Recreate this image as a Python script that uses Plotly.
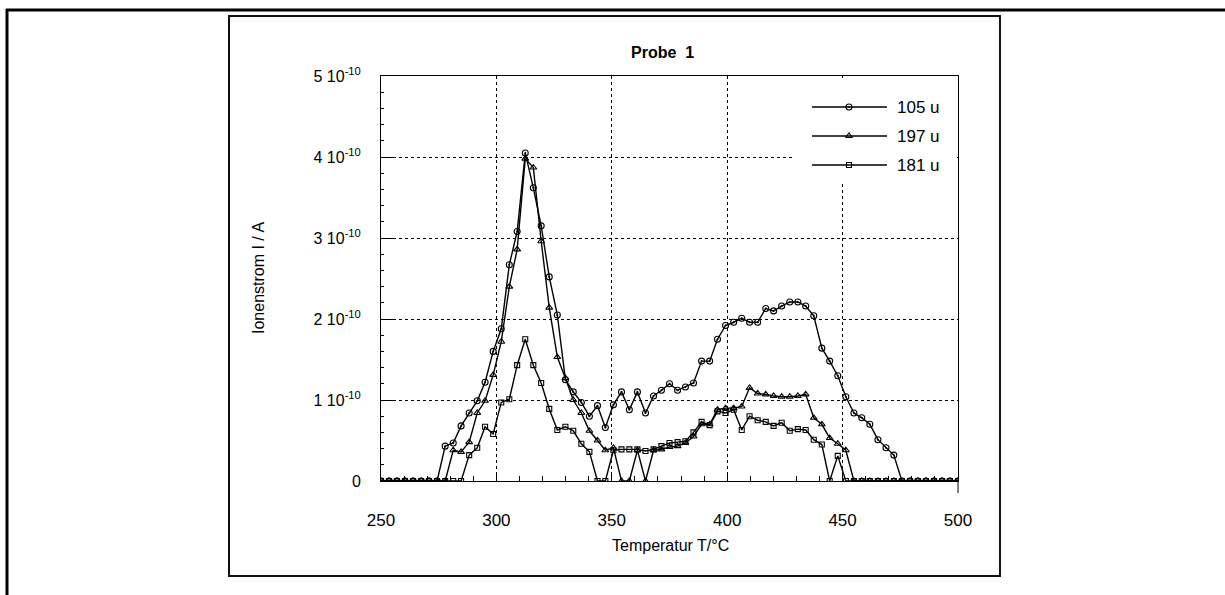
import plotly.graph_objects as go

W, H = 1225, 595

temperature = [250.0, 253.5, 256.9, 260.4, 263.9, 267.4, 270.8, 274.3, 277.8, 281.3,
               284.7, 288.2, 291.7, 295.1, 298.6, 302.1, 305.6, 309.0, 312.5, 316.0,
               319.4, 322.9, 326.4, 329.9, 333.3, 336.8, 340.3, 343.8, 347.2, 350.7,
               354.2, 357.6, 361.1, 364.6, 368.1, 371.5, 375.0, 378.5, 381.9, 385.4,
               388.9, 392.4, 395.8, 399.3, 402.8, 406.3, 409.7, 413.2, 416.7, 420.1,
               423.6, 427.1, 430.6, 434.0, 437.5, 441.0, 444.4, 447.9, 451.4, 454.9,
               458.3, 461.8, 465.3, 468.8, 472.2, 475.7, 479.2, 482.6, 486.1, 489.6,
               493.1, 496.5, 500.0]

# ion current in units of 1e-10 A
ion_105 = [0, 0, 0, 0, 0, 0, 0, 0,
           0.43, 0.47, 0.68, 0.84, 0.99, 1.22, 1.60, 1.88, 2.67, 3.08,
           4.05, 3.62, 3.15, 2.52, 2.05, 1.25, 1.10, 0.97, 0.80, 0.93,
           0.66, 0.94, 1.10, 0.88, 1.10, 0.84, 1.05, 1.12, 1.20, 1.12,
           1.16, 1.21, 1.48, 1.48, 1.75, 1.92, 1.96, 2.01, 1.96, 1.96,
           2.13, 2.10, 2.16, 2.21, 2.21, 2.16, 2.04, 1.64, 1.48, 1.30,
           1.04, 0.84, 0.78, 0.70, 0.51, 0.41, 0.32,
           0, 0, 0, 0, 0, 0, 0, 0]

ion_197 = [0, 0, 0, 0, 0, 0, 0, 0, 0,
           0.38, 0.36, 0.48, 0.84, 0.99, 1.31, 1.72, 2.40, 2.86, 3.98,
           3.87, 2.96, 2.14, 1.53, 1.27, 1.00, 0.84, 0.62, 0.50, 0.38,
           0.41, 0, 0, 0.38, 0, 0.38, 0.39, 0.42, 0.43, 0.47,
           0.55, 0.70, 0.70, 0.88, 0.90, 0.90, 0.92, 1.15, 1.08, 1.07,
           1.05, 1.04, 1.04, 1.05, 1.07, 0.78, 0.70, 0.53, 0.46, 0.38,
           0, 0, 0, 0, 0, 0, 0, 0, 0, 0, 0, 0, 0, 0]

ion_181 = [0, 0, 0, 0, 0, 0, 0, 0, 0, 0, 0,
           0.32, 0.41, 0.67, 0.58, 0.97, 1.01, 1.43, 1.75, 1.43, 1.21,
           0.89, 0.63, 0.67, 0.62, 0.46, 0.36, 0, 0, 0.38, 0.39,
           0.39, 0.39, 0.37, 0.39, 0.43, 0.47, 0.48, 0.49, 0.60, 0.73,
           0.69, 0.86, 0.84, 0.88, 0.63, 0.80, 0.75, 0.73, 0.68, 0.72,
           0.62, 0.64, 0.63, 0.51, 0.45, 0, 0.31, 0,
           0, 0, 0, 0, 0, 0, 0, 0, 0, 0, 0, 0, 0, 0]

SCALE = 1e-10
series_names = ["105 u", "197 u", "181 u"]
series_values = [ion_105, ion_197, ion_181]
series_symbols = ["circle-open-dot", "triangle-up-open", "square-open"]
series_sizes = [6, 6, 5]

x_tick_values = [250, 300, 350, 400, 450, 500]
y_tick_values = [0, 1e-10, 2e-10, 3e-10, 4e-10, 5e-10]
y_tick_labels = ["0", "1 10<sup>-10</sup>", "2 10<sup>-10</sup>", "3 10<sup>-10</sup>",
                 "4 10<sup>-10</sup>", "5 10<sup>-10</sup>"]

FONT = "Liberation Sans, Arial, Helvetica, sans-serif"

# plot area in pixels
PX0, PX1 = 381, 958
PY_TOP, PY_BOT = 76, 481

fig = go.Figure()

for name, vals, sym, sz in zip(series_names, series_values, series_symbols, series_sizes):
    fig.add_trace(go.Scatter(
        x=temperature, y=[v * SCALE for v in vals], mode="lines+markers", name=name,
        line=dict(color="black", width=1.4),
        marker=dict(symbol=sym, size=sz, color="black", line=dict(width=1.1, color="black")),
        showlegend=False, xaxis="x", yaxis="y",
    ))

# manual legend, drawn on a pixel overlay axis
legend_y = [107, 136, 165]
for name, sym, sz, ly in zip(series_names, series_symbols, series_sizes, legend_y):
    fig.add_trace(go.Scatter(
        x=[812, 887], y=[ly, ly], mode="lines", line=dict(color="black", width=1.4),
        showlegend=False, xaxis="x2", yaxis="y2", hoverinfo="skip"))
    fig.add_trace(go.Scatter(
        x=[849], y=[ly], mode="markers",
        marker=dict(symbol=sym, size=sz, color="black", line=dict(width=1.1, color="black")),
        showlegend=False, xaxis="x2", yaxis="y2", hoverinfo="skip"))

annotations = []
for name, ly in zip(series_names, legend_y):
    annotations.append(dict(x=895, y=ly, xref="x2", yref="y2", text=name, showarrow=False,
                            xanchor="left", yanchor="middle",
                            font=dict(family=FONT, size=17, color="black")))

annotations += [
    dict(x=662, y=52, xref="x2", yref="y2", text="<b>Probe  1</b>", showarrow=False,
         xanchor="center", yanchor="middle", font=dict(family=FONT, size=16, color="black")),
    dict(x=258, y=278, xref="x2", yref="y2", text="Ionenstrom I / A", showarrow=False,
         textangle=-90, xanchor="center", yanchor="middle",
         font=dict(family=FONT, size=16, color="black")),
    dict(x=670, y=545, xref="x2", yref="y2", text="Temperatur T/°C", showarrow=False,
         xanchor="center", yanchor="middle", font=dict(family=FONT, size=16, color="black")),
]

shapes = [
    # white legend background covering gridlines
    dict(type="rect", xref="x2", yref="y2", x0=792, x1=956, y0=78, y1=183,
         fillcolor="white", line=dict(width=0), layer="below"),
    # inner chart box
    dict(type="rect", xref="x2", yref="y2", x0=229, x1=1000, y0=16, y1=576,
         line=dict(color="#111", width=2), fillcolor="rgba(0,0,0,0)"),
    # outer page frame (top and left)
    dict(type="line", xref="x2", yref="y2", x0=6, x1=1225, y0=10, y1=10,
         line=dict(color="black", width=3)),
    dict(type="line", xref="x2", yref="y2", x0=7, x1=7, y0=9, y1=595,
         line=dict(color="black", width=3)),
    # right frame line extending below the axis
    dict(type="line", xref="x2", yref="y2", x0=PX1, x1=PX1, y0=PY_BOT, y1=493,
         line=dict(color="black", width=1)),
]

fig.update_layout(
    width=W, height=H, autosize=False,
    margin=dict(l=0, r=0, t=0, b=0, pad=0, autoexpand=False),
    paper_bgcolor="white", plot_bgcolor="rgba(0,0,0,0)",
    showlegend=False,
    font=dict(family=FONT, size=16, color="black"),
    xaxis=dict(
        domain=[PX0 / W, PX1 / W], range=[250, 500], anchor="y", automargin=False,
        tickvals=x_tick_values, ticks="inside", ticklen=8, tickwidth=1, tickcolor="black",
        ticklabelstandoff=24, tickfont=dict(family=FONT, size=17, color="black"),
        showline=True, linecolor="black", linewidth=1, mirror=True,
        showgrid=True, gridcolor="black", gridwidth=1, griddash="dot",
        zeroline=False,
        minor=dict(dtick=10, ticks="inside", ticklen=5, tickwidth=1, tickcolor="black",
                   showgrid=False),
    ),
    yaxis=dict(
        domain=[1 - PY_BOT / H, 1 - PY_TOP / H], range=[0, 5e-10], anchor="x", automargin=False,
        tickvals=y_tick_values, ticktext=y_tick_labels,
        ticks="inside", ticklen=15, tickwidth=1, tickcolor="black",
        ticklabelstandoff=16, tickfont=dict(family=FONT, size=16, color="black"),
        showline=True, linecolor="black", linewidth=1, mirror=True,
        showgrid=True, gridcolor="black", gridwidth=1, griddash="dot",
        zeroline=False,
        minor=dict(dtick=0.2e-10, ticks="inside", ticklen=3, tickwidth=1, tickcolor="black",
                   showgrid=False),
    ),
    xaxis2=dict(domain=[0, 1], range=[0, W], anchor="y2", visible=False, fixedrange=True,
                automargin=False),
    yaxis2=dict(domain=[0, 1], range=[H, 0], anchor="x2", visible=False, fixedrange=True,
                automargin=False),
    annotations=annotations,
    shapes=shapes,
)

fig.write_html("out.html")
